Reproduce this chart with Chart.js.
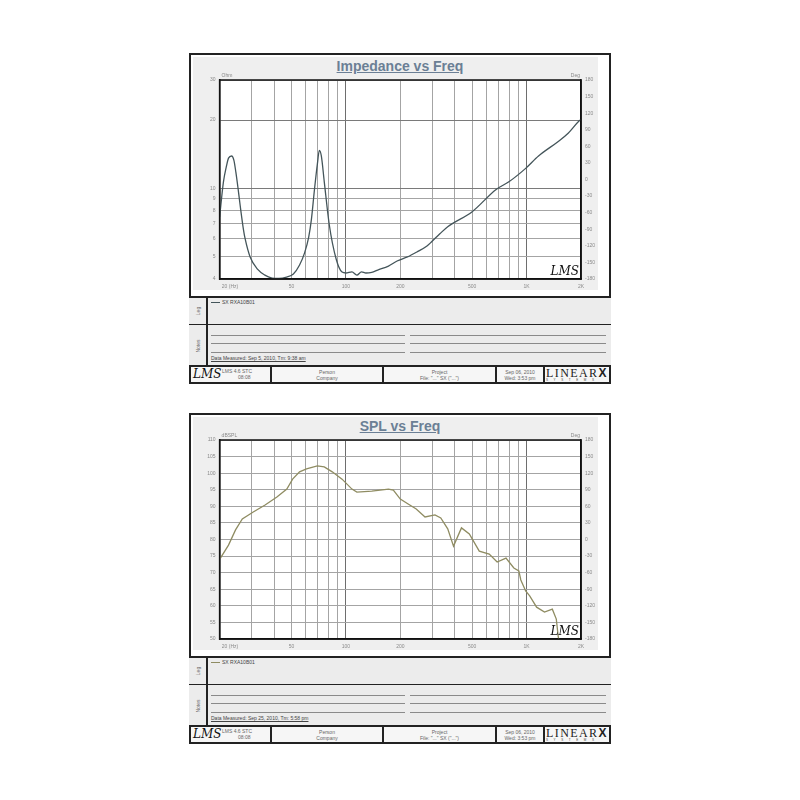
<!DOCTYPE html>
<html>
<head>
<meta charset="utf-8">
<title>Impedance vs Freq / SPL vs Freq</title>
<script src="https://cdn.jsdelivr.net/npm/chart.js@4.4.0/dist/chart.umd.min.js"></script>
<style>
    body { margin: 0; background: #fff; font-family: Arial, "Liberation Sans", sans-serif; }
    .abs { position: absolute; box-sizing: border-box; }
    .tiny { font-size: 5px; color: #666; line-height: 6px; white-space: nowrap; }
    canvas { position: absolute; }
</style>
</head>
<body>
<script>
// Impedance curve (Hz, Ohm)
const impFreq = [20, 21, 21.8, 22.4, 23.3, 24, 24.6, 25.3, 26, 27.1, 27.7, 29.5, 32.4, 35.6, 39, 42.6, 47, 51.2, 55.4, 59, 62.2, 64.4, 66.9, 69.5, 71.3, 73.1, 75.9, 80.9, 88.3, 95.2, 100, 108, 115, 122, 129, 139, 150, 172, 192, 219, 247, 281, 298, 331, 366, 500, 678, 798, 988, 1164, 1497, 1698, 1950, 2000];
const impOhm = [7.5, 10.7, 12.5, 13.6, 13.9, 13.3, 11.8, 10.0, 8.4, 6.6, 6.0, 5.0, 4.42, 4.16, 4.04, 4.02, 4.08, 4.21, 4.61, 5.2, 6.1, 7.3, 9.8, 12.8, 14.7, 13.9, 10.7, 6.93, 4.9, 4.29, 4.25, 4.3, 4.16, 4.3, 4.25, 4.28, 4.38, 4.56, 4.8, 5.0, 5.26, 5.59, 5.83, 6.32, 6.79, 7.91, 9.9, 10.7, 12.26, 13.9, 16.1, 17.5, 19.8, 20.1];

// SPL curve (Hz, dB)
const splFreq = [20.2, 22.4, 24.5, 26.7, 30.7, 35.7, 41.5, 47.1, 50.7, 55.4, 60.5, 69.5, 75.9, 84, 95.2, 108, 115, 139, 172, 183, 200, 221, 245, 274, 311, 335, 366, 394, 436, 482, 547, 621, 687, 769, 850, 906, 929, 988, 1040, 1136, 1256, 1388, 1460, 1497, 1535];
const splDb = [74.4, 78.3, 82.9, 86.2, 88.3, 90.4, 92.8, 95.2, 98.2, 100.4, 101.3, 102.2, 101.9, 100.4, 98.2, 95.2, 94.3, 94.6, 95.2, 94.9, 92.2, 90.7, 89.2, 86.8, 87.4, 86.5, 83.2, 78.0, 83.5, 81.7, 76.5, 75.6, 73.2, 74.4, 71.4, 70.5, 67.8, 64.5, 63.0, 59.6, 58.1, 59.0, 56.0, 50.6, 48.2];

// Axis ticks
const freqGrid = [20, 30, 40, 50, 60, 70, 80, 90, 100, 200, 300, 400, 500, 600, 700, 800, 900, 1000, 2000];
const freqLabels = { 20: ' '.repeat(15) + '20 (Hz)', 50: '50', 100: '100', 200: '200', 500: '500', 1000: '1K', 2000: '2K' };
const ohmTicks = [4, 5, 6, 7, 8, 9, 10, 20, 30];
const splRange = [50, 110];
const degRange = [-180, 180];

// helper for absolutely placed boxes
function box(x, y, w, h, css, html, cls) {
    const d = document.createElement('div');
    d.className = 'abs' + (cls ? ' ' + cls : '');
    d.style.cssText = `left:${x}px;top:${y}px;width:${w}px;height:${h}px;` + (css || '');
    if (html) d.innerHTML = html;
    document.body.appendChild(d);
    return d;
}

// Draw the frame, the white plot background, unit labels and the LMS mark
const plotDecor = {
    id: 'plotDecor',
    beforeDraw(chart) {
        const { ctx, chartArea: a } = chart;
        ctx.save();
        ctx.fillStyle = '#fff';
        ctx.fillRect(a.left, a.top, a.right - a.left, a.bottom - a.top);
        ctx.restore();
    },
    afterDraw(chart, args, opts) {
        const { ctx, chartArea: a } = chart;
        ctx.save();
        ctx.strokeStyle = '#111';
        ctx.lineWidth = 1.5;
        ctx.strokeRect(a.left, a.top, a.right - a.left, a.bottom - a.top);
        ctx.fillStyle = '#888';
        ctx.font = '5px Arial';
        ctx.textBaseline = 'bottom';
        ctx.textAlign = 'left';
        ctx.fillText(opts.unit, a.left + 2, a.top - 2);
        ctx.textAlign = 'right';
        ctx.fillText('Deg', a.right - 1, a.top - 2);
        ctx.fillStyle = '#111';
        ctx.font = 'italic 12px "DejaVu Serif"';
        ctx.fillText('LMS', a.right - 2, a.bottom - 1);
        ctx.restore();
    }
};

function freqAxis() {
    return {
        type: 'logarithmic',
        min: 20,
        max: 2000,
        afterBuildTicks: s => { s.ticks = freqGrid.map(v => ({ value: v })); },
        afterFit: s => { s.height = 15; },
        grid: {
            color: ctx => (ctx.tick && (ctx.tick.value === 100 || ctx.tick.value === 1000)) ? '#6e6e6e' : '#a4a4a4',
            lineWidth: 1,
            drawTicks: false
        },
        border: { display: true, color: '#111', width: 1.5 },
        ticks: {
            autoSkip: false, maxRotation: 0, padding: 5, color: '#8a8a8a',
            font: { size: 5 },
            callback: v => freqLabels[v] || ''
        }
    };
}

function degAxis() {
    return {
        type: 'linear',
        position: 'right',
        display: true,
        min: degRange[0],
        max: degRange[1],
        afterFit: s => { s.width = 25; },
        grid: { drawOnChartArea: false, drawTicks: false },
        border: { display: true, color: '#111', width: 1.5 },
        ticks: { stepSize: 30, padding: 4, color: '#8a8a8a', font: { size: 5 } }
    };
}

function buildPanel(dy, cfg) {
    // outer frame and grey backdrop behind the plot
    box(189, 53 + dy, 422, 331, 'border:2px solid #222;background:#fff');
    box(193, 57 + dy, 405, 233, 'background:#efefef');
    box(189, 57 + dy, 422, 18, 'font:bold 14px Arial,"Liberation Sans";color:#6b7f95;text-decoration:underline;text-align:center;line-height:18px', cfg.title);

    // legend and notes bands
    box(189, 296 + dy, 422, 29, 'border-top:2px solid #222;border-bottom:1px solid #222;background:#ececec');
    box(189, 325 + dy, 422, 42, 'border-bottom:2px solid #222;background:#ececec');
    box(206, 296 + dy, 2, 71, 'background:#222');
    box(186, 308 + dy, 24, 6, 'transform:rotate(-90deg);text-align:center', 'Leg', 'tiny');
    box(186, 343 + dy, 24, 6, 'transform:rotate(-90deg);text-align:center', 'Notes', 'tiny');
    box(211, 302 + dy, 9, 1, 'background:' + cfg.color);
    box(222, 299 + dy, 80, 6, 'color:#444', cfg.legend, 'tiny');
    [335, 343, 352].forEach(y => {
        box(211, y + dy, 194, 1, 'background:#8a8a8a');
        box(410, y + dy, 196, 1, 'background:#8a8a8a');
    });
    box(211, 355 + dy, 150, 7, 'color:#444;text-decoration:underline', cfg.note, 'tiny');

    // footer row
    box(191, 367 + dy, 418, 15, 'background:#f6f6f6');
    [270, 382, 495, 543].forEach(x => box(x, 367 + dy, 2, 15, 'background:#222'));
    box(193, 367 + dy, 28, 15, 'font:italic 12px "DejaVu Serif";color:#111;line-height:15px', 'LMS');
    box(222, 368 + dy, 46, 14, 'text-align:left', '<div class="tiny">LMS 4.6 STC</div><div class="tiny" style="padding-left:16px">08:08</div>');
    box(272, 369 + dy, 110, 14, 'text-align:center', '<div class="tiny">Person</div><div class="tiny">Company</div>');
    box(384, 369 + dy, 111, 14, 'text-align:center', '<div class="tiny">Project</div><div class="tiny">File: "..." SX ("...")</div>');
    box(497, 369 + dy, 46, 14, 'text-align:center', '<div class="tiny">Sep 06, 2010</div><div class="tiny">Wed: 3:53 pm</div>');
    box(546, 367 + dy, 62, 11, 'font:12px "Liberation Serif","DejaVu Serif";letter-spacing:1.4px;color:#222;line-height:12px;white-space:nowrap', 'LINEAR<b style="font-family:Arial;font-size:12px">X</b>');
    box(546, 378 + dy, 62, 5, 'font:3px Arial;letter-spacing:5.6px;color:#444;line-height:4px;white-space:nowrap', 'SYSTEMS');

    // the chart canvas: plot area lands on x 217..581, y 80..279 (+dy)
    const canvas = document.createElement('canvas');
    canvas.width = 410;
    canvas.height = 222;
    canvas.style.left = '196px';
    canvas.style.top = (72 + dy) + 'px';
    document.body.appendChild(canvas);
    return canvas;
}

document.addEventListener('DOMContentLoaded', function() {
    const c1 = buildPanel(0, {
        title: 'Impedance vs Freq',
        legend: 'SX RXA10B01',
        note: 'Data Measured: Sep 5, 2010, Tm: 9:38 am',
        color: '#44555a'
    });
    const c2 = buildPanel(360, {
        title: 'SPL vs Freq',
        legend: 'SX RXA10B01',
        note: 'Data Measured: Sep 25, 2010, Tm: 5:58 pm',
        color: '#8f8c62'
    });

    const common = {
        responsive: false,
        animation: false,
        devicePixelRatio: 1,
        layout: { padding: { top: 8, left: 0, right: 0, bottom: 0 } },
        plugins: { legend: { display: false }, tooltip: { enabled: false } }
    };

    // Impedance chart
    new Chart(c1.getContext('2d'), {
        type: 'line',
        data: {
            datasets: [{
                data: impFreq.map((f, i) => ({ x: f, y: impOhm[i] })),
                borderColor: '#44555a',
                borderWidth: 1.3,
                pointRadius: 0,
                cubicInterpolationMode: 'monotone'
            }]
        },
        options: Object.assign({}, common, {
            plugins: Object.assign({}, common.plugins, { plotDecor: { unit: 'Ohm' } }),
            scales: {
                x: freqAxis(),
                y: {
                    type: 'logarithmic',
                    min: 4,
                    max: 30,
                    afterBuildTicks: s => { s.ticks = ohmTicks.map(v => ({ value: v })); },
                    afterFit: s => { s.width = 21; },
                    grid: {
                        color: ctx => (ctx.tick && (ctx.tick.value === 10 || ctx.tick.value === 20)) ? '#7a7a7a' : '#a4a4a4',
                        drawTicks: false
                    },
                    border: { display: true, color: '#111', width: 1.5 },
                    ticks: { padding: 4, color: '#8a8a8a', font: { size: 5 }, callback: v => String(v) }
                },
                y1: degAxis()
            }
        }),
        plugins: [plotDecor]
    });

    // SPL chart
    new Chart(c2.getContext('2d'), {
        type: 'line',
        data: {
            datasets: [{
                data: splFreq.map((f, i) => ({ x: f, y: splDb[i] })),
                borderColor: '#8f8c62',
                borderWidth: 1.3,
                pointRadius: 0,
                tension: 0
            }]
        },
        options: Object.assign({}, common, {
            plugins: Object.assign({}, common.plugins, { plotDecor: { unit: 'dBSPL' } }),
            scales: {
                x: freqAxis(),
                y: {
                    type: 'linear',
                    min: splRange[0],
                    max: splRange[1],
                    afterFit: s => { s.width = 21; },
                    grid: { color: '#a4a4a4', drawTicks: false },
                    border: { display: true, color: '#111', width: 1.5 },
                    ticks: { stepSize: 5, padding: 4, color: '#8a8a8a', font: { size: 5 } }
                },
                y1: degAxis()
            }
        }),
        plugins: [plotDecor]
    });
});
</script>
</body>
</html>
